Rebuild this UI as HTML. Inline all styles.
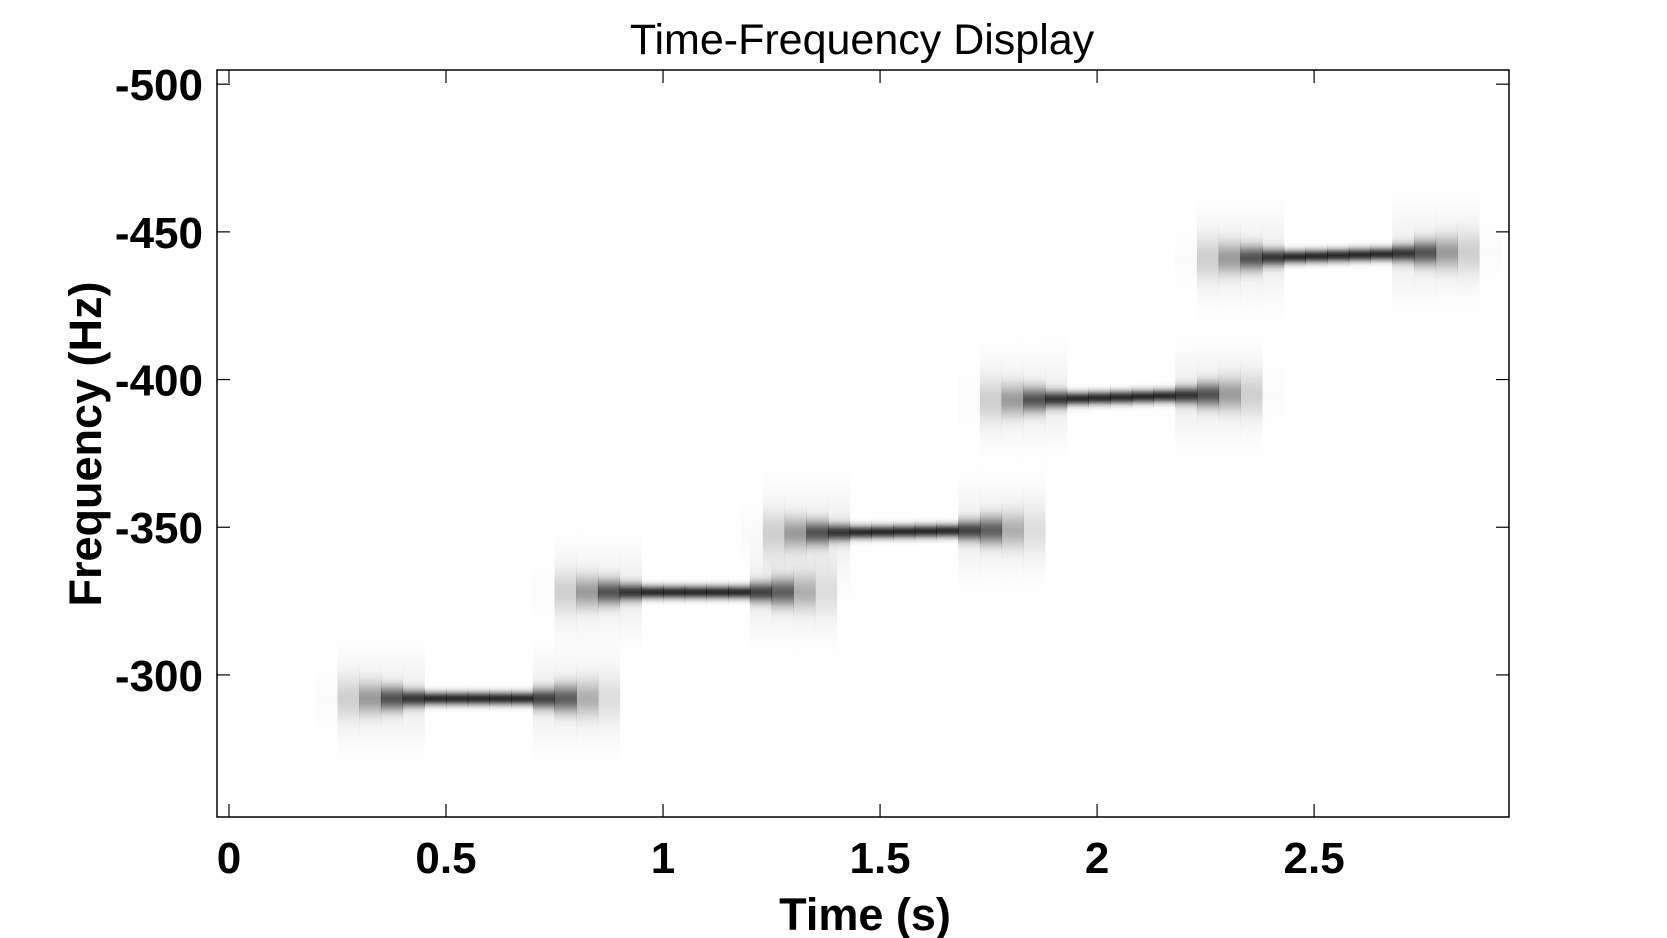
<!DOCTYPE html>
<html><head><meta charset="utf-8"><style>
html,body{margin:0;padding:0;background:#fff;}
svg{display:block;font-family:"Liberation Sans",Arial,sans-serif;}
</style></head><body>
<svg id="chart" width="1667" height="938" viewBox="0 0 1667 938">
<defs id="defs"></defs>
<rect x="0" y="0" width="1667" height="938" fill="#fff"/>
<g id="plot"></g>
<g id="axes"></g>
<text x="862" y="54" font-size="43" text-anchor="middle" fill="#000">Time-Frequency Display</text>
<text x="865" y="930" font-size="45" font-weight="bold" text-anchor="middle" fill="#000">Time (s)</text>
<text transform="translate(101,444) rotate(-90)" font-size="45" font-weight="bold" text-anchor="middle" fill="#000">Frequency (Hz)</text>
</svg>
<script>
const segStart = [0.35, 0.85, 1.33, 1.83, 2.33];
const segEnd = [0.78, 1.28, 1.76, 2.28, 2.78];
const freqStart = [-292, -328, -348, -393, -441];
const freqEnd = [-292, -328, -349, -395, -443];
const xTicks = [0, 0.5, 1, 1.5, 2, 2.5];
const xTickLabels = ["0", "0.5", "1", "1.5", "2", "2.5"];
const yTicks = [-500, -450, -400, -350, -300];
const yTickLabels = ["-500", "-450", "-400", "-350", "-300"];

const L = 217, R = 1509, T = 70, B = 817;
const xMin = -0.0276, xMax = 2.949, yMin = -504.8, yMax = -251.9;
const xs = v => L + (v - xMin) / (xMax - xMin) * (R - L);
const ys = v => T + (v - yMin) / (yMax - yMin) * (B - T);
const NS = "http://www.w3.org/2000/svg";
const plot = document.getElementById('plot');
const axes = document.getElementById('axes');
const defs = document.getElementById('defs');
function mk(tag, attrs, parent) {
  const e = document.createElementNS(NS, tag);
  for (const k in attrs) e.setAttribute(k, attrs[k]);
  parent.appendChild(e);
  return e;
}
let gid = 0;
function column(x, w, cy, sigma, dark, parent, idx, ci) {
  const h = sigma * 8;
  const id = 'g' + (gid++);
  const lg = mk('linearGradient', {id: id, x1: 0, y1: 0, x2: 0, y2: 1}, defs);
  for (let i = 0; i <= 16; i++) {
    const z = (i / 16 - 0.5) * 8;
    const a = dark * Math.exp(-z * z / 2);
    mk('stop', {offset: (i / 16), 'stop-color': '#000', 'stop-opacity': a.toFixed(3)}, lg);
  }
  const r = mk('rect', {x: x, y: cy - h / 2, width: w, height: h, fill: 'url(#' + id + ')'}, parent);
  
  
}
const dt = 0.05;
for (let s = 0; s < segStart.length; s++) {
  const g = mk('g', {}, plot);
  
  
  const t0 = segStart[s], t1 = segEnd[s];
  const f = t => freqStart[s] + (freqEnd[s] - freqStart[s]) * Math.min(1, Math.max(0, (t - t0) / (t1 - t0)));
  let ci = 0;
  for (let t = t0 - 0.15; t < t1 + 0.15; t += dt) {
    const tc = t + dt / 2;
    const x = xs(t), w = xs(t + dt) - x + 0.5;
    const cy = ys(f(tc));
    let dark, sigma;
    const dIn = Math.min(tc - t0, t1 - tc);
    if (dIn >= 0) {
      dark = 0.6 + 0.25 * Math.min(1, dIn / 0.1);
      sigma = 4.5 + 5 * Math.max(0, 1 - dIn / 0.1);
    } else {
      const o = -dIn;
      dark = 0.4 * Math.exp(-o * o / 0.005);
      sigma = 9 + 60 * o;
    }
    column(x, w, cy, sigma, dark, g, s, ci++);
    if (Math.abs(dIn) < 0.1) column(x, w, cy, 26, 0.07, g, s, ci++);
  }
}
const box = mk('rect', {x: L, y: T, width: R - L, height: B - T, fill: 'none', stroke: '#000', 'stroke-width': 1.5}, axes);


xTicks.forEach((v, i) => {
  const x = xs(v);
  const t1 = mk('line', {x1: x, y1: B, x2: x, y2: B - 13, stroke: '#000', 'stroke-width': 1.2}, axes);
  
  
  const t2 = mk('line', {x1: x, y1: T, x2: x, y2: T + 13, stroke: '#000', 'stroke-width': 1.2}, axes);
  
  
  const lb = mk('text', {x: x, y: 873, 'font-size': 44, 'font-weight': 'bold', 'text-anchor': 'middle'}, axes);
  lb.textContent = xTickLabels[i];
  
  
});
yTicks.forEach((v, i) => {
  const y = ys(v);
  const t1 = mk('line', {x1: L, y1: y, x2: L + 13, y2: y, stroke: '#000', 'stroke-width': 1.2}, axes);
  
  
  const t2 = mk('line', {x1: R, y1: y, x2: R - 13, y2: y, stroke: '#000', 'stroke-width': 1.2}, axes);
  
  
  const lb = mk('text', {x: 203, y: y + 16, 'font-size': 44, 'font-weight': 'bold', 'text-anchor': 'end'}, axes);
  lb.textContent = yTickLabels[i];
  
  
});
</script>
</body></html>
